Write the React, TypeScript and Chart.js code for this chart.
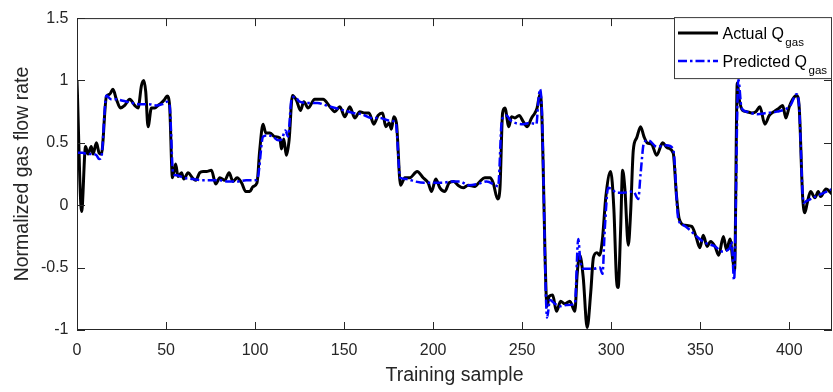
import React, { useEffect, useRef } from "react";
import { Chart, registerables } from "chart.js";

Chart.register(...registerables);

// Measured gas flow (normalized) over the training samples
const actualX = [
  0, 2.6, 4.8, 6.2, 8, 9, 10.9, 12.4, 13.7, 16.5, 18.4, 20.2, 22.1, 24.4, 26.8, 29.6, 32.4, 34.3, 36.2, 37.5,
  38.6, 39.9, 41.8, 43.7, 45.5, 47.4, 49.3, 50.6, 52, 53.6, 55.4, 56.7, 58.7, 60, 62.4, 64.8, 66.7, 68.9, 70.8,
  72.7, 75.5, 77.9, 80.2, 83, 85.4, 87.6, 89.9, 92.4, 94.8, 97, 98.9, 101.1, 102.6, 104.5, 106, 108.3, 111,
  113.9, 114.8, 116.1, 117.6, 119.1, 121, 123.3, 125.5, 127.4, 129.8, 133.5, 138.2, 142, 144.8, 147.6, 150.4,
  153.2, 156, 158.8, 161.6, 164, 166.7, 169.1, 171.6, 173.4, 175.3, 176.6, 177.9, 179.4, 181.7, 184.1, 186.9,
  191, 194.4, 197.2, 199.1, 201.5, 203.8, 206.6, 209, 211.6, 214, 216.9, 219.7, 223.4, 226.2, 229, 231.9,
  233.7, 236.2, 237.5, 239, 240.3, 242.5, 244, 245.9, 248.3, 250.6, 252.8, 255.3, 257.2, 258.4, 260, 260.9,
  264, 265.2, 267.1, 269.3, 271.6, 274, 276.8, 279.6, 280.9, 282.4, 284.3, 286.5, 288.5, 290, 292, 293.5,
  295.1, 297, 299.7, 301.5, 303, 303.9, 305.3, 306.4, 307.7, 309.6, 310.9, 312.4, 314.3, 316.5, 318.4, 320.2,
  322.7, 325.5, 328.9, 331.5, 334.8, 336.7, 338.2, 341.4, 345.2, 347.6, 349.8, 351.7, 353.9, 355.8, 358.3,
  360.4, 363, 364.8, 366.7, 368.4, 369.3, 370.8, 371.9, 373.8, 376.1, 378.9, 381.3, 383.5, 386.3, 388.8,
  391.4, 394.4, 396.3, 398.1, 400, 401.9, 404.1, 405.6, 407.5, 408.8, 410.1, 412, 414.4, 416.3, 417.6, 420.6,
  424,
];
const actualY = [
  1.0, -0.05, 0.47, 0.41, 0.47, 0.41, 0.5, 0.42, 0.41, 0.87, 0.89, 0.93, 0.85, 0.78, 0.8, 0.85, 0.8, 0.78, 0.96, 1.0,
  0.91, 0.63, 0.78, 0.78, 0.8, 0.82, 0.85, 0.875, 0.8, 0.22, 0.33, 0.23, 0.26, 0.21, 0.26, 0.22, 0.2, 0.26, 0.27,
  0.27, 0.28, 0.17, 0.22, 0.2, 0.26, 0.19, 0.22, 0.18, 0.11, 0.11, 0.15, 0.18, 0.44, 0.65, 0.58, 0.58, 0.55,
  0.54, 0.45, 0.53, 0.4, 0.52, 0.88, 0.84, 0.76, 0.83, 0.78, 0.85, 0.85, 0.79, 0.75, 0.79, 0.71,
  0.79, 0.7, 0.75, 0.74, 0.74, 0.65, 0.72, 0.74, 0.63, 0.66, 0.61, 0.71, 0.66, 0.16, 0.22, 0.22,
  0.27, 0.22, 0.18, 0.11, 0.21, 0.14, 0.11, 0.18, 0.19, 0.16, 0.14, 0.16, 0.15, 0.19, 0.22, 0.22,
  0.18, 0.05, 0.13, 0.74, 0.78, 0.63, 0.71, 0.7, 0.72, 0.67, 0.63, 0.7, 0.74, 0.78, 0.89, 0.78,
  -0.81, -0.73, -0.72, -0.85, -0.77, -0.79, -0.77, -0.85, -0.55, -0.4, -0.58, -0.98, -0.7, -0.42, -0.38, -0.4,
  -0.27, 0.07, 0.27, -0.03, -0.6, -0.66, -0.19, 0.28, 0.13, -0.32, -0.06, 0.44, 0.54, 0.63, 0.55, 0.5,
  0.49, 0.4, 0.5, 0.46, 0.42, 0.07, -0.11, -0.16, -0.17, -0.25, -0.34, -0.24, -0.33, -0.29, -0.33,
  -0.4, -0.25, -0.36, -0.27, -0.45, -0.52, 0.98, 0.85, 0.76, 0.75, 0.74, 0.75, 0.79, 0.65, 0.72,
  0.75, 0.78, 0.8, 0.7, 0.79, 0.85, 0.88, 0.78, 0.07, -0.06, 0.02, 0.11, 0.06, 0.11, 0.07, 0.13,
  0.09,
];

// Model output for the same samples
const predX = [
  0, 3, 6, 9, 11, 12.4, 13.6, 16.5, 19, 22, 25, 28, 31, 35, 40, 45, 48, 50.5, 52, 54, 56, 60, 65, 70, 75, 80,
  85, 90, 95, 100, 101.5, 104.5, 107, 110, 113, 115, 117, 118.5, 120.5, 122.3, 125, 130, 135, 140, 145, 150,
  155, 160, 165, 170, 175, 179, 181.5, 185, 190, 195, 200, 205, 210, 215, 220, 225, 230, 235, 236.5, 238.6,
  241.2, 243.5, 246, 250.6, 254.4, 258, 259, 260, 261, 264, 265.6, 268.4, 271.2, 275, 279.6, 281.5, 282.7,
  284.6, 290, 293.6, 295.1, 296.4, 298.3, 300.3, 303, 306.7, 312.4, 315.2, 316.5, 318.4, 320.9, 325.5, 331,
  334.8, 337.7, 340.5, 344.3, 348, 352.6, 358.3, 362, 366.7, 367.6, 369, 371.4, 373.2, 376.1, 381.9, 387.5,
  393.1, 400.6, 404.1, 405.5, 408, 409.8, 413.5, 417.3, 421, 424,
];
const predY = [
  0.42, 0.42, 0.41, 0.41, 0.4, 0.37, 0.38, 0.88, 0.85, 0.85, 0.84, 0.83, 0.82, 0.81, 0.81, 0.8, 0.81, 0.83, 0.8,
  0.25, 0.24, 0.22, 0.21, 0.2, 0.2, 0.2, 0.19, 0.19, 0.2, 0.2, 0.22, 0.55, 0.56, 0.55, 0.52, 0.53, 0.6, 0.55,
  0.85, 0.87, 0.83, 0.82, 0.82, 0.8, 0.78, 0.76, 0.74, 0.73, 0.7, 0.7, 0.68, 0.66, 0.22, 0.21, 0.19, 0.18, 0.18,
  0.18, 0.19, 0.19, 0.16, 0.17, 0.19, 0.16, 0.15, 0.68, 0.72, 0.68, 0.66, 0.65, 0.66, 0.65, 0.82, 0.93, 0.78,
  -0.9, -0.76, -0.79, -0.81, -0.8, -0.79, -0.27, -0.45, -0.51, -0.51, -0.5, -0.55, -0.19, 0.14, 0.13, 0.1, 0.1,
  0.11, 0.05, 0.25, 0.5, 0.52, 0.47, 0.48, 0.45, -0.11, -0.16, -0.2, -0.25, -0.3, -0.33, -0.37, -0.34, -0.29,
  -0.6, 1.01, 0.78, 0.75, 0.73, 0.74, 0.75, 0.8, 0.89, 0.8, 0.02, 0.035, 0.06, 0.086, 0.11, 0.13,
];

const xTicks = [0, 50, 100, 150, 200, 250, 300, 350, 400];
const yTicks = [-1, -0.5, 0, 0.5, 1, 1.5];

const FONT = '"Liberation Sans", Arial, Helvetica, sans-serif';
const AXIS_COLOR = "#262626";
const PRED_DASH = [9, 3, 2.5, 3];

// Box, inward tick marks and the legend with subscripted labels
const framePlugin = {
  id: "matlabFrame",
  afterDraw(chart: any) {
    const { ctx, chartArea: a, scales } = chart;
    ctx.save();
    ctx.strokeStyle = AXIS_COLOR;
    ctx.lineWidth = 1;
    ctx.strokeRect(a.left + 0.5, a.top + 0.5, a.right - a.left - 1, a.bottom - a.top - 1);
    ctx.beginPath();
    for (const v of xTicks) {
      const px = Math.round(scales.x.getPixelForValue(v)) + 0.5;
      ctx.moveTo(px, a.bottom);
      ctx.lineTo(px, a.bottom - 8);
      ctx.moveTo(px, a.top);
      ctx.lineTo(px, a.top + 8);
    }
    for (const v of yTicks) {
      const py = Math.round(scales.y.getPixelForValue(v)) + 0.5;
      ctx.moveTo(a.left, py);
      ctx.lineTo(a.left + 8, py);
      ctx.moveTo(a.right, py);
      ctx.lineTo(a.right - 8, py);
    }
    ctx.stroke();

    // legend
    const lw = 158;
    const lh = 62;
    const lx = a.right - lw;
    const ly = a.top - 1;
    ctx.fillStyle = "#ffffff";
    ctx.fillRect(lx, ly, lw, lh);
    ctx.strokeStyle = "#3a3a3a";
    ctx.strokeRect(lx + 0.5, ly + 0.5, lw - 1, lh - 1);

    const items = [
      { label: "Actual Q", sub: "gas", color: "#000000", width: 3, dash: [] as number[] },
      { label: "Predicted Q", sub: "gas", color: "#0000ff", width: 2.5, dash: PRED_DASH },
    ];
    items.forEach((it, i) => {
      const y = ly + 16 + i * 28;
      ctx.beginPath();
      ctx.strokeStyle = it.color;
      ctx.lineWidth = it.width;
      ctx.setLineDash(it.dash);
      ctx.moveTo(lx + 4, y);
      ctx.lineTo(lx + 44, y);
      ctx.stroke();
      ctx.setLineDash([]);
      ctx.fillStyle = "#000000";
      ctx.textBaseline = "alphabetic";
      ctx.textAlign = "left";
      ctx.font = `16px ${FONT}`;
      const tx = lx + 48.5;
      ctx.fillText(it.label, tx, y + 5.6);
      const w = ctx.measureText(it.label).width;
      ctx.font = `11.5px ${FONT}`;
      ctx.fillText(it.sub, tx + w + 1.5, y + 12.5);
    });
    ctx.restore();
  },
};

export default function App() {
  const canvasRef = useRef<HTMLCanvasElement | null>(null);

  useEffect(() => {
    if (!canvasRef.current) return;
    const chart = new Chart(canvasRef.current, {
      type: "line",
      data: {
        datasets: [
          {
            label: "Predicted Q gas",
            data: predX.map((x, i) => ({ x, y: predY[i] })),
            borderColor: "#0000ff",
            borderWidth: 2.5,
            borderDash: PRED_DASH,
            pointRadius: 0,
            cubicInterpolationMode: "monotone",
            fill: false,
          },
          {
            label: "Actual Q gas",
            data: actualX.map((x, i) => ({ x, y: actualY[i] })),
            borderColor: "#000000",
            borderWidth: 3,
            pointRadius: 0,
            cubicInterpolationMode: "monotone",
            fill: false,
          },
        ],
      },
      options: {
        animation: false,
        responsive: true,
        maintainAspectRatio: false,
        layout: { padding: { top: 10, right: 1, left: 0, bottom: 0 } },
        plugins: { legend: { display: false }, tooltip: { enabled: false } },
        scales: {
          x: {
            type: "linear",
            min: 0,
            max: 424,
            afterFit: (s: any) => {
              s.height = 62;
            },
            afterBuildTicks: (s: any) => {
              s.ticks = xTicks.map((value) => ({ value }));
            },
            grid: { display: false, drawTicks: false },
            border: { display: false },
            ticks: {
              color: AXIS_COLOR,
              font: { family: FONT, size: 16 },
              padding: 11,
              maxRotation: 0,
              autoSkip: false,
              callback: (v: any) => String(v),
            },
            title: {
              display: true,
              text: "Training sample",
              color: AXIS_COLOR,
              font: { family: FONT, size: 19.5 },
              padding: { top: 0, bottom: 5 },
            },
          },
          y: {
            type: "linear",
            min: -1,
            max: 1.5,
            afterFit: (s: any) => {
              s.width = 77;
            },
            afterBuildTicks: (s: any) => {
              s.ticks = yTicks.map((value) => ({ value }));
            },
            grid: { display: false, drawTicks: false },
            border: { display: false },
            ticks: {
              color: AXIS_COLOR,
              font: { family: FONT, size: 16 },
              padding: 8.5,
              autoSkip: false,
              callback: (v: any) => String(v),
            },
            title: {
              display: true,
              text: "Normalized gas flow rate",
              color: AXIS_COLOR,
              font: { family: FONT, size: 19.5 },
              padding: { top: 11, bottom: 0 },
            },
          },
        },
      },
      plugins: [framePlugin],
    });
    return () => chart.destroy();
  }, []);

  return (
    <div style={{ position: "absolute", left: 0, top: 0, width: 833, height: 392, background: "#fff" }}>
      <canvas ref={canvasRef} />
    </div>
  );
}
